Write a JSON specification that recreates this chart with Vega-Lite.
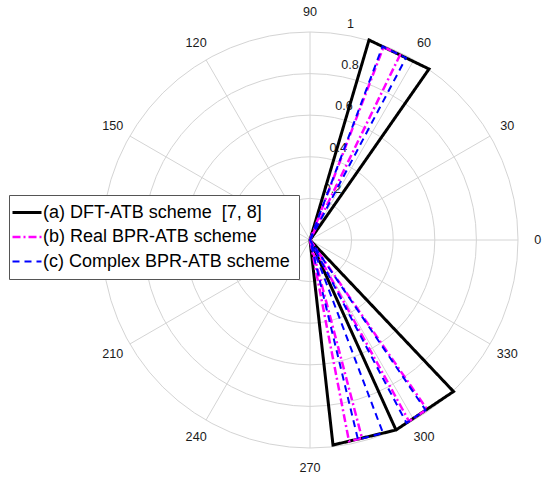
{
  "$schema": "https://vega.github.io/schema/vega-lite/v6.json",
  "width": 464,
  "height": 480,
  "autosize": {"type": "none"},
  "padding": {"left": 78, "top": 0, "right": 0, "bottom": 0},
  "background": "white",
  "config": {"view": {"stroke": null}, "text": {"font": "Liberation Sans"}},
  "layer": [
    {
      "data": {"values": [{"r": 0.2}, {"r": 0.4}, {"r": 0.6}, {"r": 0.8}, {"r": 1}]},
      "mark": {"type": "point", "shape": "circle", "filled": false, "stroke": "#d4d4d4", "strokeWidth": 1, "opacity": 1},
      "encoding": {
        "x": {"datum": 0, "type": "quantitative", "scale": {"domain": [-1.11538, 1.11538], "nice": false, "zero": false}, "axis": null},
        "y": {"datum": 0, "type": "quantitative", "scale": {"domain": [-1.15385, 1.15385], "nice": false, "zero": false}, "axis": null},
        "size": {"field": "r", "type": "quantitative", "legend": null, "scale": {"type": "pow", "exponent": 2, "domain": [0, 1], "range": [0, 173056], "zero": true}}
      }
    },
    {
      "data": {"values": [
        {"x1": 1, "y1": 0, "x2": -1, "y2": 0},
        {"x1": 0.866, "y1": 0.5, "x2": -0.866, "y2": -0.5},
        {"x1": 0.5, "y1": 0.866, "x2": -0.5, "y2": -0.866},
        {"x1": 0, "y1": 1, "x2": 0, "y2": -1},
        {"x1": -0.5, "y1": 0.866, "x2": 0.5, "y2": -0.866},
        {"x1": -0.866, "y1": 0.5, "x2": 0.866, "y2": -0.5}
      ]},
      "mark": {"type": "rule", "stroke": "#d4d4d4", "strokeWidth": 1},
      "encoding": {
        "x": {"field": "x1", "type": "quantitative", "axis": null},
        "y": {"field": "y1", "type": "quantitative", "axis": null},
        "x2": {"field": "x2"},
        "y2": {"field": "y2"}
      }
    },
    {
      "data": {"values": [
        {"a": 0, "t": "0"}, {"a": 30, "t": "30"}, {"a": 60, "t": "60"}, {"a": 90, "t": "90"},
        {"a": 120, "t": "120"}, {"a": 150, "t": "150"}, {"a": 210, "t": "210"},
        {"a": 240, "t": "240"}, {"a": 270, "t": "270"}, {"a": 300, "t": "300"}, {"a": 330, "t": "330"}
      ]},
      "mark": {"type": "text", "fontSize": 12.6, "color": "#1a1a1a", "align": "center", "baseline": "middle"},
      "encoding": {
        "theta": {"field": "a", "type": "quantitative", "stack": null, "scale": {"type": "linear", "domain": [0, 360], "range": [1.5708, -4.7124]}},
        "radius": {"datum": 1.095, "type": "quantitative", "scale": {"type": "linear", "domain": [0, 1], "range": [0, 208], "zero": true}},
        "text": {"field": "t"}
      }
    },
    {
      "data": {"values": [
        {"tick": 0.2, "t": "0.2"}, {"tick": 0.4, "t": "0.4"}, {"tick": 0.6, "t": "0.6"}, {"tick": 0.8, "t": "0.8"}, {"tick": 1, "t": "1"}
      ]},
      "mark": {"type": "text", "fontSize": 12.6, "color": "#1a1a1a", "align": "left", "baseline": "middle", "dx": 8, "dy": -10},
      "encoding": {
        "theta": {"datum": 82, "type": "quantitative"},
        "radius": {"field": "tick", "type": "quantitative"},
        "text": {"field": "t"}
      }
    },
    {
      "data": {"values": [
        {"s": "(a) DFT-ATB scheme \u00a0[7, 8]", "i": 0, "x": 0, "y": 0},
        {"s": "(a) DFT-ATB scheme \u00a0[7, 8]", "i": 1, "x": 0.2837, "y": 0.9615},
        {"s": "(a) DFT-ATB scheme \u00a0[7, 8]", "i": 2, "x": 0.5721, "y": 0.8221},
        {"s": "(a) DFT-ATB scheme \u00a0[7, 8]", "i": 3, "x": 0, "y": 0},
        {"s": "(a) DFT-ATB scheme \u00a0[7, 8]", "i": 4, "x": 0.1106, "y": -0.9856},
        {"s": "(a) DFT-ATB scheme \u00a0[7, 8]", "i": 5, "x": 0.4135, "y": -0.9135},
        {"s": "(a) DFT-ATB scheme \u00a0[7, 8]", "i": 6, "x": 0.6899, "y": -0.7284},
        {"s": "(a) DFT-ATB scheme \u00a0[7, 8]", "i": 7, "x": 0, "y": 0},
        {"s": "(a) DFT-ATB scheme \u00a0[7, 8]", "i": 8, "x": 0.4135, "y": -0.9135},

        {"s": "(b) Real BPR-ATB scheme", "i": 0, "x": 0, "y": 0},
        {"s": "(b) Real BPR-ATB scheme", "i": 1, "x": 0.3534, "y": 0.9279},
        {"s": "(b) Real BPR-ATB scheme", "i": 2, "x": 0.4327, "y": 0.8894},
        {"s": "(b) Real BPR-ATB scheme", "i": 3, "x": 0, "y": 0},
        {"s": "(b) Real BPR-ATB scheme", "i": 4, "x": 0.1875, "y": -0.9673},
        {"s": "(b) Real BPR-ATB scheme", "i": 5, "x": 0.25, "y": -0.9524},
        {"s": "(b) Real BPR-ATB scheme", "i": 6, "x": 0, "y": 0},
        {"s": "(b) Real BPR-ATB scheme", "i": 7, "x": 0.476, "y": -0.8716},
        {"s": "(b) Real BPR-ATB scheme", "i": 8, "x": 0.5625, "y": -0.8139},
        {"s": "(b) Real BPR-ATB scheme", "i": 9, "x": 0, "y": 0},

        {"s": "(c) Complex BPR-ATB scheme", "i": 0, "x": 0, "y": 0},
        {"s": "(c) Complex BPR-ATB scheme", "i": 1, "x": 0.3486, "y": 0.9303},
        {"s": "(c) Complex BPR-ATB scheme", "i": 2, "x": 0.4615, "y": 0.8755},
        {"s": "(c) Complex BPR-ATB scheme", "i": 3, "x": 0, "y": 0},
        {"s": "(c) Complex BPR-ATB scheme", "i": 4, "x": 0.2308, "y": -0.9596},
        {"s": "(c) Complex BPR-ATB scheme", "i": 5, "x": 0.351, "y": -0.9284},
        {"s": "(c) Complex BPR-ATB scheme", "i": 6, "x": 0, "y": 0},
        {"s": "(c) Complex BPR-ATB scheme", "i": 7, "x": 0.4639, "y": -0.8798},
        {"s": "(c) Complex BPR-ATB scheme", "i": 8, "x": 0.5553, "y": -0.8173},
        {"s": "(c) Complex BPR-ATB scheme", "i": 9, "x": 0, "y": 0}
      ]},
      "mark": {"type": "line", "strokeJoin": "miter", "strokeCap": "butt"},
      "encoding": {
        "x": {"field": "x", "type": "quantitative", "axis": null},
        "y": {"field": "y", "type": "quantitative", "axis": null},
        "order": {"field": "i", "type": "quantitative"},
        "color": {
          "field": "s", "type": "nominal",
          "scale": {"domain": ["(a) DFT-ATB scheme \u00a0[7, 8]", "(b) Real BPR-ATB scheme", "(c) Complex BPR-ATB scheme"], "range": ["#000000", "#ff00ff", "#0000ff"]},
          "legend": {"orient": "none", "legendX": -69, "legendY": 195, "title": null, "direction": "vertical", "symbolType": "M-2.9,0H2.9", "symbolSize": 100, "labelFontSize": 18, "labelFont": "Liberation Sans", "labelColor": "#000000", "labelLimit": 0, "labelOffset": 7, "symbolOffset": 0.5, "padding": 8.5, "rowPadding": 6.5, "strokeColor": "#555555", "fillColor": "#ffffff"}
        },
        "strokeDash": {
          "field": "s", "type": "nominal",
          "scale": {"domain": ["(a) DFT-ATB scheme \u00a0[7, 8]", "(b) Real BPR-ATB scheme", "(c) Complex BPR-ATB scheme"], "range": [[1, 0], [8, 3, 2, 3], [7, 5]]},
          "legend": {"orient": "none", "legendX": -69, "legendY": 195, "title": null, "direction": "vertical", "symbolType": "M-2.9,0H2.9", "symbolSize": 100, "labelFontSize": 18, "labelFont": "Liberation Sans", "labelColor": "#000000", "labelLimit": 0, "labelOffset": 7, "symbolOffset": 0.5, "padding": 8.5, "rowPadding": 6.5, "strokeColor": "#555555", "fillColor": "#ffffff"}
        },
        "strokeWidth": {
          "field": "s", "type": "nominal",
          "scale": {"domain": ["(a) DFT-ATB scheme \u00a0[7, 8]", "(b) Real BPR-ATB scheme", "(c) Complex BPR-ATB scheme"], "range": [3, 2, 2]},
          "legend": {"orient": "none", "legendX": -69, "legendY": 195, "title": null, "direction": "vertical", "symbolType": "M-2.9,0H2.9", "symbolSize": 100, "labelFontSize": 18, "labelFont": "Liberation Sans", "labelColor": "#000000", "labelLimit": 0, "labelOffset": 7, "symbolOffset": 0.5, "padding": 8.5, "rowPadding": 6.5, "strokeColor": "#555555", "fillColor": "#ffffff"}
        }
      }
    }
  ]
}
